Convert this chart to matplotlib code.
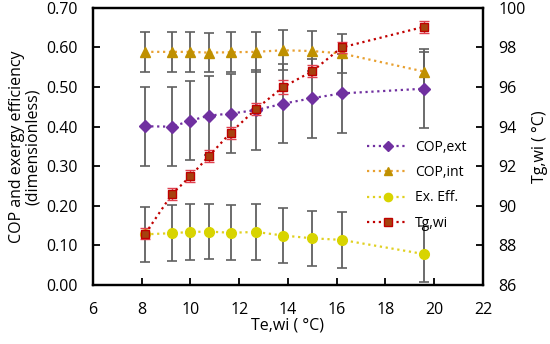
import matplotlib.pyplot as plt
import numpy as np
from matplotlib.ticker import FormatStrFormatter

plt.rcParams['font.family'] = ['Open Sans', 'DejaVu Sans']

# Te,wi (°C)
te_wi = [8.15, 9.25, 10.0, 10.75, 11.65, 12.7, 13.8, 15.0, 16.2, 19.6]

# left axis series
cop_ext = [0.401, 0.400, 0.415, 0.428, 0.433, 0.442, 0.458, 0.472, 0.484, 0.496]
cop_ext_err = [0.10, 0.10, 0.10, 0.10, 0.10, 0.10, 0.10, 0.10, 0.10, 0.10]
cop_int = [0.589, 0.589, 0.589, 0.587, 0.588, 0.589, 0.593, 0.591, 0.585, 0.539]
cop_int_err = [0.05, 0.05, 0.05, 0.05, 0.05, 0.05, 0.05, 0.05, 0.05, 0.05]
ex_eff = [0.128, 0.131, 0.134, 0.135, 0.132, 0.134, 0.125, 0.118, 0.114, 0.078]
ex_eff_err = [0.07, 0.07, 0.07, 0.07, 0.07, 0.07, 0.07, 0.07, 0.07, 0.07]

# right axis series
tg_wi = [88.6, 90.6, 91.5, 92.5, 93.7, 94.9, 96.0, 96.8, 98.0, 99.05]
tg_wi_err = [0.3, 0.3, 0.3, 0.3, 0.3, 0.3, 0.35, 0.3, 0.3, 0.3]

fig = plt.figure(figsize=(5.5, 3.44), dpi=100)
ax = fig.add_axes([0.169, 0.1715, 0.709, 0.8055])
ax2 = ax.twinx()

err_kw = dict(fmt='none', ecolor='#606060', elinewidth=1.3, capsize=3.5, capthick=1.2, zorder=1)
ax.errorbar(te_wi, cop_ext, yerr=cop_ext_err, **err_kw)
ax.errorbar(te_wi, cop_int, yerr=cop_int_err, **err_kw)
ax.errorbar(te_wi, ex_eff, yerr=ex_eff_err, **err_kw)

h1, = ax.plot(te_wi, cop_ext, ls=':', lw=1.6, color='#7030A0', marker='D', ms=6,
              mfc='#7030A0', mec='#7030A0', label='COP,ext', zorder=3)
h2, = ax.plot(te_wi, cop_int, ls=':', lw=1.6, color='#E8A030', marker='^', ms=7,
              mfc='#BF9000', mec='#BF9000', label='COP,int', zorder=3)
h3, = ax.plot(te_wi, ex_eff, ls=':', lw=1.6, color='#E0D020', marker='o', ms=7,
              mfc='#D8D400', mec='#D8D400', label='Ex. Eff.', zorder=3)

ax2.errorbar(te_wi, tg_wi, yerr=tg_wi_err, fmt='none', ecolor='#E04050', elinewidth=1.0,
             capsize=3.5, capthick=1.0, zorder=1)
h4, = ax2.plot(te_wi, tg_wi, ls=':', lw=1.6, color='#C00000', marker='s', ms=6,
               mfc='#A5420E', mec='#C00000', label='Tg,wi', zorder=3)

ax.set_xlim(6, 22)
ax.set_ylim(0, 0.7)
ax2.set_ylim(86, 100)
ax.set_xticks(np.arange(6, 23, 2))
ax.set_yticks(np.arange(0, 0.71, 0.1))
ax2.set_yticks(np.arange(86, 101, 2))
ax.yaxis.set_major_formatter(FormatStrFormatter('%.2f'))

for a in (ax, ax2):
    for s in a.spines.values():
        s.set_linewidth(1.6)
        s.set_color('black')
    a.tick_params(direction='in', length=5, width=1.3, labelsize=11.5, pad=11)
ax.tick_params(axis='x', pad=12)

ax.set_xlabel('Te,wi ( °C)', fontsize=11.5, labelpad=0)
ax.set_ylabel('COP and exergy efficiency\n(dimensionless)', fontsize=11.5, labelpad=4,
              linespacing=1.0)
ax2.set_ylabel('Tg,wi ( °C)', fontsize=11.5, labelpad=5)

ax2.legend(handles=[h1, h2, h3, h4], loc='upper left', bbox_to_anchor=(0.672, 0.57),
           frameon=False, fontsize=10, handlelength=2.9, handletextpad=0.5,
           labelspacing=0.75, markerscale=0.85)

fig.savefig('out.png', dpi=100)
